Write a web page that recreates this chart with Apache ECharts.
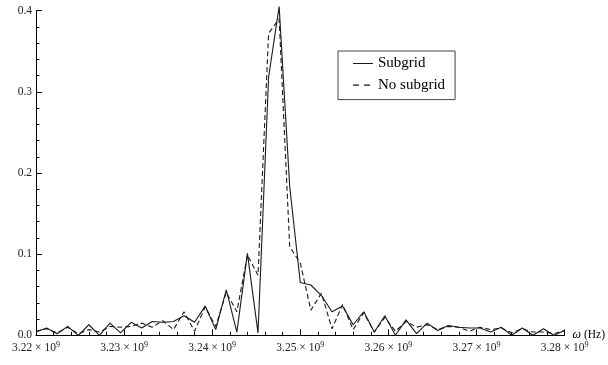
<!DOCTYPE html>
<html>
<head>
<meta charset="utf-8">
<script src="https://cdn.jsdelivr.net/npm/echarts@6/dist/echarts.min.js"></script>
<style>
html,body{margin:0;padding:0;background:#fff;}
#chart{width:608px;height:365px;}
</style>
</head>
<body>
<div id="chart"></div>
<script>
// Frequencies (GHz)
var freqGHz = [3.2200, 3.2212, 3.2224, 3.2236, 3.2248, 3.2260, 3.2272, 3.2284, 3.2296, 3.2308,
  3.2320, 3.2332, 3.2344, 3.2356, 3.2368, 3.2380, 3.2392, 3.2404, 3.2416, 3.2428,
  3.2440, 3.2452, 3.2464, 3.2476, 3.2488, 3.2500, 3.2512, 3.2524, 3.2536, 3.2548,
  3.2560, 3.2572, 3.2584, 3.2596, 3.2608, 3.2620, 3.2632, 3.2644, 3.2656, 3.2668,
  3.2680, 3.2692, 3.2704, 3.2716, 3.2728, 3.2740, 3.2752, 3.2764, 3.2776, 3.2788, 3.2800];

var subgrid = [0.004, 0.009, 0.002, 0.011, 0.000, 0.013, 0.000, 0.015, 0.003, 0.016,
  0.009, 0.017, 0.016, 0.017, 0.024, 0.016, 0.036, 0.007, 0.056, 0.004,
  0.101, 0.003, 0.318, 0.405, 0.183, 0.065, 0.062, 0.049, 0.029, 0.036,
  0.013, 0.029, 0.004, 0.024, 0.000, 0.019, 0.002, 0.015, 0.006, 0.012,
  0.010, 0.009, 0.009, 0.004, 0.010, 0.000, 0.009, 0.000, 0.008, 0.000, 0.006];

var noSubgrid = [0.005, 0.008, 0.003, 0.010, 0.002, 0.007, 0.004, 0.011, 0.010, 0.011,
  0.015, 0.010, 0.018, 0.007, 0.029, 0.005, 0.035, 0.011, 0.053, 0.029,
  0.099, 0.074, 0.372, 0.390, 0.109, 0.089, 0.031, 0.052, 0.008, 0.038,
  0.007, 0.028, 0.004, 0.022, 0.005, 0.017, 0.010, 0.013, 0.007, 0.011,
  0.010, 0.005, 0.010, 0.007, 0.009, 0.003, 0.008, 0.004, 0.004, 0.002, 0.006];

var seriesNames = ['Subgrid', 'No subgrid'];
var yTicks = ['0.0', '0.1', '0.2', '0.3', '0.4'];

function pairs(vals) {
  return freqGHz.map(function (f, i) { return [f * 1e9, vals[i]]; });
}

// legend glyphs: a 20x14 box with a thin horizontal stroke (solid / dashed)
var corners = 'M0,0h0.01v0.01h-0.01z M19.99,13.99h0.01v0.01h-0.01z ';
var solidIcon = 'path://' + corners + 'M0,6.5h20v1.1h-20z';
var dashIcon = 'path://' + corners + 'M0,6.5h6v1.1h-6z M11,6.5h6v1.1h-6z';

var serif = '"Liberation Serif", "DejaVu Serif", serif';
var chart = echarts.init(document.getElementById('chart'), null, {renderer: 'canvas'});
chart.setOption({
  backgroundColor: '#fff',
  animation: false,
  grid: {left: 36, right: 42, top: 10.7, bottom: 29.7, containLabel: false},
  legend: {
    left: 338, top: 51,
    orient: 'vertical',
    data: [
      {name: seriesNames[0], icon: solidIcon},
      {name: seriesNames[1], icon: dashIcon}
    ],
    borderColor: '#444', borderWidth: 1,
    padding: [5, 10, 7, 15],
    itemWidth: 20, itemHeight: 14, itemGap: 6.6,
    textStyle: {fontFamily: serif, fontSize: 15, color: '#000'}
  },
  xAxis: {
    type: 'value',
    min: 3.22e9, max: 3.28e9, interval: 1e7,
    name: '{w|ω} (Hz)',
    nameLocation: 'end', nameGap: 8,
    nameTextStyle: {fontFamily: serif, fontSize: 11.5, color: '#000',
      rich: {w: {fontFamily: serif, fontSize: 12, fontStyle: 'italic', color: '#000'}}},
    axisLine: {show: true, onZero: true, lineStyle: {color: '#000', width: 1}},
    axisTick: {show: true, inside: true, length: 6, lineStyle: {color: '#000'}},
    minorTick: {show: true, splitNumber: 5, length: 3.5, lineStyle: {color: '#000'}},
    splitLine: {show: false},
    axisLabel: {
      margin: 6,
      fontFamily: serif, fontSize: 11.5, color: '#222',
      formatter: function (v) { return (v / 1e9).toFixed(2) + ' × 10{s|9}'; },
      rich: {s: {fontFamily: serif, fontSize: 8, color: '#222', verticalAlign: 'top', padding: [0, 0, 6, 0]}}
    }
  },
  yAxis: {
    type: 'value',
    min: 0, max: 0.4, interval: 0.1,
    axisLine: {show: true, onZero: true, lineStyle: {color: '#000', width: 1}},
    axisTick: {show: true, inside: true, length: 6, lineStyle: {color: '#000'}},
    minorTick: {show: true, splitNumber: 5, length: 3.5, lineStyle: {color: '#000'}},
    splitLine: {show: false},
    axisLabel: {
      margin: 4,
      fontFamily: serif, fontSize: 11.5, color: '#222',
      formatter: function (v) { return yTicks[Math.round(v * 10)]; }
    }
  },
  series: [
    {
      name: seriesNames[0], type: 'line', data: pairs(subgrid),
      showSymbol: false, symbol: 'none', clip: false,
      lineStyle: {color: '#1a1a1a', width: 1.1, type: 'solid'},
      itemStyle: {color: '#1a1a1a'}
    },
    {
      name: seriesNames[1], type: 'line', data: pairs(noSubgrid),
      showSymbol: false, symbol: 'none', clip: false,
      lineStyle: {color: '#1a1a1a', width: 1.1, type: [5, 3]},
      itemStyle: {color: '#1a1a1a'}
    }
  ]
});
</script>
</body>
</html>
